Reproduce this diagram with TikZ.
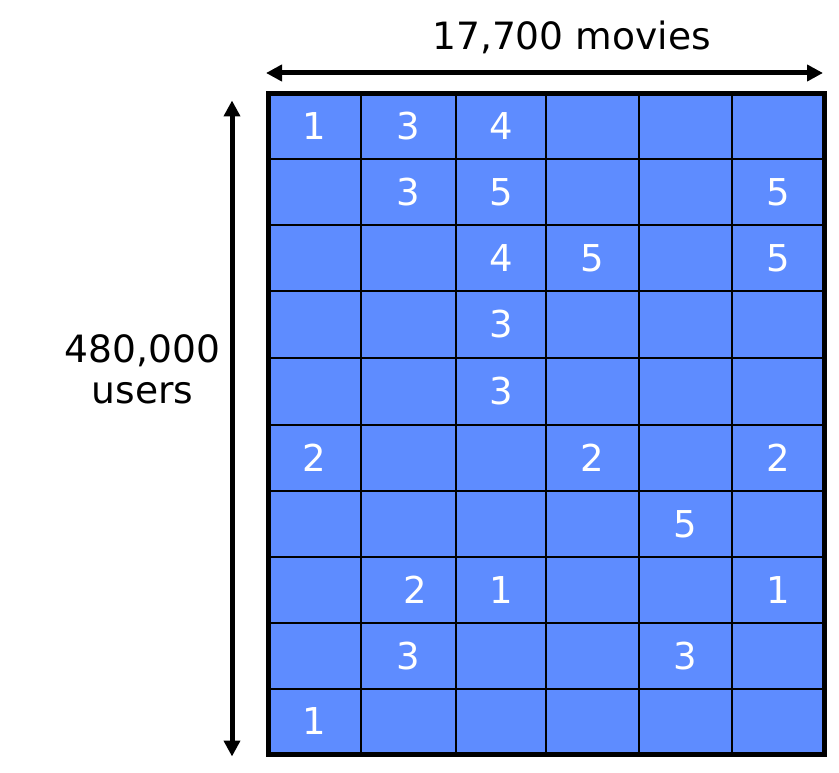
\documentclass[tikz,border=0pt]{standalone}
\usepackage{fontspec}
\setmainfont{DejaVu Sans}
\usetikzlibrary{arrows.meta}
\definecolor{cellblue}{HTML}{5E8CFF}
\begin{document}
\begin{tikzpicture}[x=1pt,y=-1pt,
  lbl/.style={font=\fontsize{37.6}{41.5}\selectfont, text=black, inner sep=0pt, align=center},
  num/.style={font=\fontsize{37}{41}\selectfont, text=white, inner sep=0pt},
  dimarrow/.style={line width=5pt, {Triangle[length=16pt,width=16pt]}-{Triangle[length=16pt,width=16pt]}},
  gridline/.style={line width=2.8pt, black},
  border/.style={line width=5pt, black}]
\useasboundingbox (0,0) rectangle (839,773);
% grid
\fill[cellblue] (268,93.5) rectangle (824.5,754);
\foreach \x in {361,456,546,639,732}
  \draw[gridline] (\x,93.5) -- (\x,754);
\foreach \y in {159,225,291,358,425,491,557,623,689}
  \draw[gridline] (268,\y) -- (824.5,\y);
\draw[border] (268,93.5) rectangle (824.5,754);
% dimension arrows
\coordinate (hl) at (266,73);
\coordinate (hr) at (823,73);
\coordinate (vt) at (232,100.5);
\coordinate (vb) at (232,756.5);
\draw[dimarrow] (hl) -- (hr);
\draw[dimarrow] (vt) -- (vb);
% labels
\node[lbl, anchor=base] (movies) at (571.5,50) {17,700 movies};
\node[lbl] (users) at (142.5,369.5) {480,000\\users};
% ratings
\node[num] (r1c1) at (314.5,126) {1};
\node[num] (r1c2) at (408.5,126) {3};
\node[num] (r1c3) at (501,126) {4};
\node[num] (r2c2) at (408.5,192) {3};
\node[num] (r2c3) at (501,192) {5};
\node[num] (r2c6) at (778,192) {5};
\node[num] (r3c3) at (501,258) {4};
\node[num] (r3c4) at (592.5,258) {5};
\node[num] (r3c6) at (778,258) {5};
\node[num] (r4c3) at (501,324.5) {3};
\node[num] (r5c3) at (501,391.5) {3};
\node[num] (r6c1) at (314.5,458) {2};
\node[num] (r6c4) at (592.5,458) {2};
\node[num] (r6c6) at (778,458) {2};
\node[num] (r7c5) at (685.5,524) {5};
\node[num] (r8c2) at (415,590) {2};
\node[num] (r8c3) at (501,590) {1};
\node[num] (r8c6) at (778,590) {1};
\node[num] (r9c2) at (408.5,656) {3};
\node[num] (r9c5) at (685.5,656) {3};
\node[num] (r10c1) at (314.5,721.5) {1};
\end{tikzpicture}
\end{document}
